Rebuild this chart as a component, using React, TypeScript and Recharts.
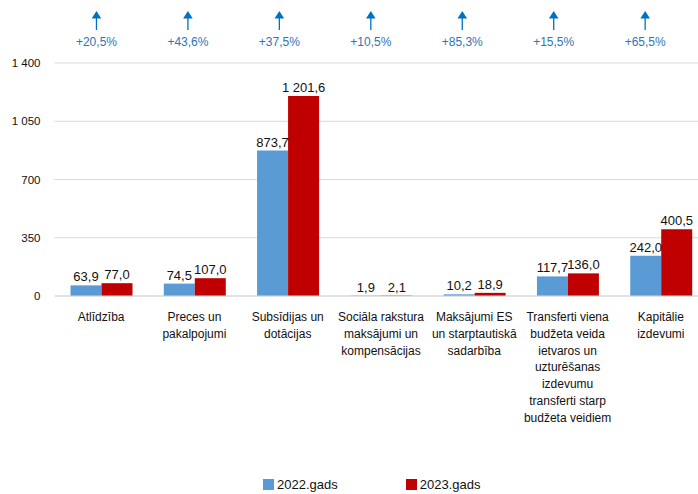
import React from "react";
import {
  Bar,
  BarChart,
  CartesianGrid,
  LabelList,
  Legend,
  XAxis,
  YAxis,
} from "recharts";

const categories = [
  "Atlīdzība",
  "Preces un\npakalpojumi",
  "Subsīdijas un\ndotācijas",
  "Sociāla rakstura\nmaksājumi un\nkompensācijas",
  "Maksājumi ES\nun starptautiskā\nsadarbība",
  "Transferti viena\nbudžeta veida\nietvaros un\nuzturēšanas\nizdevumu\ntransferti starp\nbudžeta veidiem",
  "Kapitālie\nizdevumi",
];
const values2022 = [63.9, 74.5, 873.7, 1.9, 10.2, 117.7, 242.0];
const values2023 = [77.0, 107.0, 1201.6, 2.1, 18.9, 136.0, 400.5];
const pctChange = [20.5, 43.6, 37.5, 10.5, 85.3, 15.5, 65.5];
const yTicks = [0, 350, 700, 1050, 1400];

const data = categories.map((name, i) => ({
  name,
  v2022: values2022[i],
  v2023: values2023[i],
  pct: pctChange[i],
}));

const FONT = "Arial, 'Liberation Sans', sans-serif";
const BLUE = "#5B9BD5";
const RED = "#C00000";
const ARROW = "#0070C0";
const TEXT = "#111";

// 1 201,6 style (non-breaking space so labels don't wrap)
const fmt = (v: number, digits: number) => {
  const [int, dec] = v.toFixed(digits).split(".");
  const withSpaces = int.replace(/\B(?=(\d{3})+(?!\d))/g, "\u00A0");
  return dec ? `${withSpaces},${dec}` : withSpaces;
};

const CategoryTick = (props: any) => {
  const { x, y, payload } = props;
  const lines = String(payload.value).split("\n");
  return (
    <text
      x={x}
      y={y + 25}
      textAnchor="middle"
      fontFamily={FONT}
      fontSize={12}
      fill={TEXT}
    >
      {lines.map((line, i) => (
        <tspan key={i} x={x} dy={i === 0 ? 0 : 16.8}>
          {line}
        </tspan>
      ))}
    </text>
  );
};

// growth marker above each category (x of 2023 bar = pair centre)
const PctMarker = (props: any) => {
  const { x, value } = props;
  const cx = x - 5 - (x - 100) * 0.0197;
  return (
    <g>
      <path d={`M${cx - 4.8},18.5 L${cx},11 L${cx + 4.8},18.5 Z`} fill={ARROW} />
      <line x1={cx} y1={18} x2={cx} y2={30} stroke={ARROW} strokeWidth={1.3} />
      <text
        x={cx}
        y={46}
        textAnchor="middle"
        fontFamily={FONT}
        fontSize={12}
        fill="#2E75B6"
      >
        {`+${fmt(value, 1)}%`}
      </text>
    </g>
  );
};

const LegendContent = (props: any) => {
  const { payload } = props;
  return (
    <div
      style={{
        display: "flex",
        alignItems: "center",
        marginLeft: 255,
        fontFamily: FONT,
        fontSize: 13,
        color: TEXT,
        height: 20,
      }}
    >
      {(payload || []).map((item: any, i: number) => (
        <div
          key={i}
          style={{ display: "flex", alignItems: "center", marginRight: 68 }}
        >
          <span
            style={{
              width: 11,
              height: 11,
              background: item.color,
              display: "inline-block",
              marginRight: 3,
            }}
          />
          <span>{item.value}</span>
        </div>
      ))}
    </div>
  );
};

export default function App() {
  return (
    <div
      style={{
        position: "absolute",
        left: 0,
        top: 0,
        width: 698,
        height: 494,
        overflow: "hidden",
        background: "#fff",
      }}
    >
      <BarChart
        width={720}
        height={494}
        data={data}
        barGap={0}
        margin={{ top: 63, right: 12.5, left: 8, bottom: 0 }}
      >
        <CartesianGrid vertical={false} stroke="#D9D9D9" />
        <XAxis
          dataKey="name"
          interval={0}
          tickLine={false}
          tickSize={0}
          tickMargin={0}
          height={178}
          axisLine={{ stroke: "#D9D9D9" }}
          tick={<CategoryTick />}
        />
        <YAxis
          domain={[0, 1400]}
          ticks={yTicks}
          width={46.5}
          axisLine={false}
          tickLine={false}
          tickSize={0}
          tickMargin={14}
          tick={{ fontFamily: FONT, fontSize: 11.5, fill: TEXT }}
          tickFormatter={(v: number) => fmt(v, 0)}
        />
        <Legend
          verticalAlign="bottom"
          height={20}
          content={<LegendContent />}
        />
        <Bar
          dataKey="v2022"
          name="2022.gads"
          fill={BLUE}
          barSize={31}
          isAnimationActive={false}
        >
          <LabelList
            dataKey="v2022"
            position="top"
            offset={4}
            formatter={(v: any) => fmt(Number(v), 1)}
            style={{ fontFamily: FONT, fontSize: 13, fill: TEXT }}
          />
        </Bar>
        <Bar
          dataKey="v2023"
          name="2023.gads"
          fill={RED}
          barSize={31}
          isAnimationActive={false}
        >
          <LabelList
            dataKey="v2023"
            position="top"
            offset={4}
            formatter={(v: any) => fmt(Number(v), 1)}
            style={{ fontFamily: FONT, fontSize: 13, fill: TEXT }}
          />
          <LabelList dataKey="pct" content={<PctMarker />} />
        </Bar>
      </BarChart>
    </div>
  );
}
